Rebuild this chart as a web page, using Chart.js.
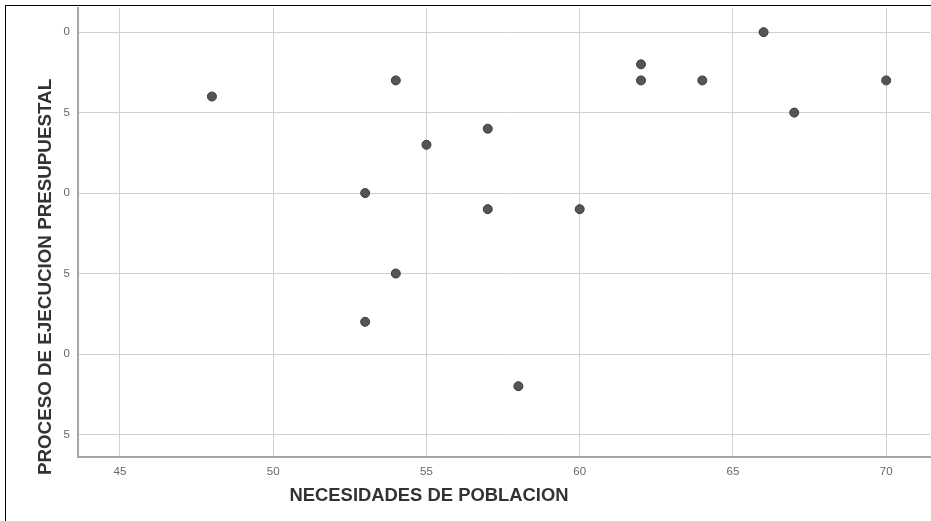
<!DOCTYPE html>
<html>
<head>
<meta charset="utf-8">
<script src="https://cdn.jsdelivr.net/npm/chart.js@4/dist/chart.umd.min.js"></script>
<style>
  html, body { margin:0; padding:0; background:#fff; }
  #wrap { position:relative; width:931px; height:521px; overflow:hidden; background:#fff; }
  #frame { position:absolute; left:5px; top:5px; width:960px; height:560px; border-top:1px solid #000; border-left:1px solid #000; pointer-events:none; }
  canvas { position:absolute; left:0; top:0; }
  .ttl { position:absolute; font-family:"Liberation Sans", Arial, sans-serif; font-weight:bold; color:#333; white-space:nowrap; line-height:1; }
  #xt { left:429px; top:495px; font-size:18.4px; transform:translate(-50%,-50%); }
  #yt { left:45px; top:277px; font-size:18.8px; transform:translate(-50%,-50%) rotate(-90deg); }
</style>
</head>
<body>
<div id="wrap">
  <canvas id="c" width="931" height="521"></canvas>
  <div id="frame"></div>
  <div class="ttl" id="xt">NECESIDADES DE POBLACION</div>
  <div class="ttl" id="yt">PROCESO DE EJECUCION PRESUPUESTAL</div>
</div>
<script>
// Data
const necesidades = [48, 54, 55, 53, 57, 57, 60, 54, 53, 58, 62, 62, 64, 66, 67, 70];
const proceso     = [56, 57, 53, 50, 54, 49, 49, 45, 42, 38, 58, 57, 57, 60, 55, 57];
const xTicks = [45, 50, 55, 60, 65, 70];
const xTickText = ["45", "50", "55", "60", "65", "70"];
const yTicks = [35, 40, 45, 50, 55, 60];
const yTickText = ["5", "0", "5", "0", "5", "0"]; // labels appear cropped in the source

const points = necesidades.map((x, i) => ({ x: x, y: proceso[i] }));

function zeroPad(s) { s.paddingTop = 0; s.paddingBottom = 0; s.paddingLeft = 0; s.paddingRight = 0; }

new Chart(document.getElementById('c'), {
  type: 'scatter',
  data: { datasets: [{
    data: points,
    backgroundColor: '#555',
    borderColor: '#3a3a3a',
    borderWidth: 1,
    pointRadius: 4.5,
    pointHoverRadius: 4.5
  }]},
  options: {
    responsive: false,
    animation: false,
    devicePixelRatio: 1,
    layout: { autoPadding: false, padding: { left: 0, top: 8, right: 1, bottom: 0 } },
    plugins: { legend: { display: false }, tooltip: { enabled: false } },
    scales: {
      x: {
        type: 'linear', min: 43.63, max: 71.43,
        afterBuildTicks: s => { s.ticks = xTicks.map(v => ({ value: v })); },
        afterFit: s => { s.height = 64; zeroPad(s); },
        grid: { color: '#d0d0d0', lineWidth: 1, drawTicks: false },
        border: { color: '#a6a6a6', width: 2 },
        ticks: {
          padding: 8, color: '#666',
          font: { family: 'Liberation Sans', size: 11.5 },
          callback: (v) => { const i = xTicks.indexOf(v); return i >= 0 ? xTickText[i] : ''; }
        }
      },
      y: {
        type: 'linear', min: 33.6, max: 61.5,
        afterBuildTicks: s => { s.ticks = yTicks.map(v => ({ value: v })); },
        afterFit: s => { s.width = 78; zeroPad(s); },
        grid: { color: '#d0d0d0', lineWidth: 1, drawTicks: false },
        border: { color: '#a6a6a6', width: 2 },
        ticks: {
          padding: 8, color: '#666',
          font: { family: 'Liberation Sans', size: 11.5 },
          callback: (v) => { const i = yTicks.indexOf(v); return i >= 0 ? yTickText[i] : ''; }
        }
      }
    }
  }
});
</script>
</body>
</html>
